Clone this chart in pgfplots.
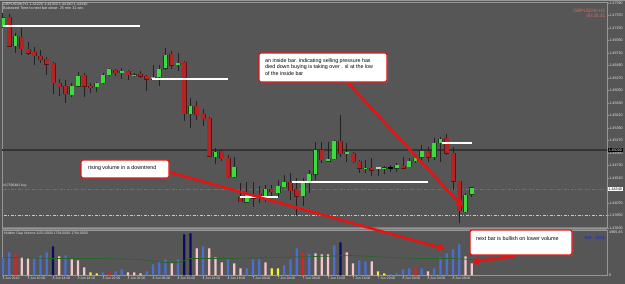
\documentclass[border=0pt]{standalone}
\usepackage{pgfplots}
\pgfplotsset{compat=1.18}
\usepackage{pgfplotstable}
\usepackage{fontspec}
\setmainfont{Liberation Sans}
\usetikzlibrary{arrows.meta,shadows}

\definecolor{bg}{RGB}{86,86,86}
\definecolor{wick}{RGB}{34,34,34}
\definecolor{cred}{RGB}{180,36,36}
\definecolor{credb}{RGB}{90,20,20}
\definecolor{cgreen}{RGB}{60,220,60}
\definecolor{cgreenb}{RGB}{25,60,25}
\definecolor{vblue}{RGB}{72,112,210}
\definecolor{vpink}{RGB}{245,198,198}
\definecolor{vred}{RGB}{230,30,30}
\definecolor{vnavy}{RGB}{12,12,95}
\definecolor{vyellow}{RGB}{240,240,60}
\definecolor{frame}{RGB}{150,150,150}
\definecolor{sepc}{RGB}{125,125,125}
\definecolor{txt}{RGB}{228,228,228}
\definecolor{salmon}{RGB}{215,110,100}
\definecolor{annred}{RGB}{228,20,20}
\definecolor{darkline}{RGB}{52,52,52}
\definecolor{dgreen}{RGB}{80,135,80}
\definecolor{lightg}{RGB}{200,200,200}
\definecolor{volblue}{RGB}{40,50,170}
\definecolor{magreen}{RGB}{40,100,40}

\pgfplotstableread{
i o h l c
0 1.47176 1.47414 1.47150 1.47335
2 1.46833 1.47062 1.46710 1.47009
11 1.45971 1.46182 1.45936 1.46129
12 1.46129 1.46376 1.46112 1.46305
15 1.46112 1.46200 1.46024 1.46182
16 1.46182 1.46358 1.46164 1.46323
17 1.46323 1.46446 1.46305 1.46428
19 1.46358 1.46446 1.46252 1.46393
21 1.46323 1.46358 1.46288 1.46330
24 1.46252 1.46499 1.46235 1.46288
25 1.46288 1.46499 1.46129 1.46428
26 1.46446 1.46798 1.46411 1.46675
28 1.46516 1.46710 1.46393 1.46534
30 1.45637 1.45918 1.45390 1.45777
34 1.44880 1.45038 1.44756 1.44968
37 1.44528 1.44880 1.44510 1.44704
39 1.44088 1.44440 1.44070 1.44211
42 1.44176 1.44387 1.44088 1.44317
44 1.44246 1.44475 1.44176 1.44369
45 1.44352 1.44563 1.44352 1.44440
48 1.44193 1.44510 1.44017 1.44440
49 1.44440 1.44651 1.44246 1.44581
50 1.44581 1.45144 1.44475 1.45003
52 1.44809 1.45144 1.44792 1.44845
53 1.44845 1.45179 1.44827 1.45161
55 1.44950 1.45126 1.44792 1.44968
58 1.44677 1.44827 1.44598 1.44686
61 1.44686 1.44721 1.44581 1.44695
63 1.44686 1.44774 1.44616 1.44739
65 1.44704 1.44862 1.44704 1.44809
66 1.44809 1.44915 1.44774 1.44862
67 1.44880 1.45091 1.44827 1.44985
69 1.44880 1.45214 1.44827 1.45126
70 1.45126 1.45232 1.44792 1.45197
74 1.43912 1.44246 1.43894 1.44211
75 1.44220 1.44360 1.44180 1.44340
}\greenc

\pgfplotstableread{
i o h l c
1 1.47344 1.47396 1.46816 1.46833
3 1.46992 1.47150 1.46675 1.46780
4 1.46780 1.46904 1.46675 1.46710
5 1.46728 1.46816 1.46499 1.46657
6 1.46657 1.46763 1.46534 1.46587
7 1.46604 1.46640 1.46323 1.46516
8 1.46534 1.46552 1.45989 1.46182
9 1.46182 1.46252 1.45953 1.46112
10 1.46129 1.46235 1.45830 1.45989
13 1.46323 1.46358 1.45936 1.46129
14 1.46129 1.46182 1.46006 1.46112
18 1.46411 1.46428 1.46305 1.46358
20 1.46393 1.46411 1.46235 1.46323
22 1.46340 1.46393 1.46270 1.46305
23 1.46305 1.46323 1.46041 1.46252
27 1.46692 1.46745 1.46428 1.46499
29 1.46552 1.46570 1.45513 1.45637
31 1.45777 1.45865 1.45531 1.45619
32 1.45637 1.45725 1.45425 1.45549
33 1.45566 1.45584 1.44880 1.44897
35 1.44985 1.45021 1.44809 1.44845
36 1.44862 1.44915 1.44510 1.44528
38 1.44176 1.44422 1.44088 1.44088
40 1.44193 1.44440 1.44000 1.44158
41 1.44228 1.44369 1.44070 1.44176
43 1.44317 1.44387 1.44176 1.44264
46 1.44440 1.44598 1.44123 1.44281
47 1.44317 1.44510 1.43859 1.44193
51 1.45003 1.45144 1.44774 1.44827
54 1.45161 1.45619 1.44880 1.44933
56 1.44950 1.44968 1.44774 1.44792
57 1.44809 1.44827 1.44598 1.44686
59 1.44686 1.44862 1.44545 1.44651
64 1.44721 1.44880 1.44686 1.44686
68 1.44985 1.45056 1.44792 1.44880
71 1.45214 1.45285 1.44915 1.44950
72 1.44950 1.45056 1.44299 1.44457
73 1.44457 1.44457 1.43718 1.43929
}\redc

\pgfplotstableread{
i o h l c
60 1.44686 1.44686 1.44545 1.44686
}\dojilight

\pgfplotstableread{
i o h l c
62 1.44686 1.44739 1.44616 1.44686
}\dojidark

\pgfplotsset{
  wickplot/.style={draw=none, mark=none, forget plot,
    /pgfplots/error bars/y dir=both, /pgfplots/error bars/y explicit,
    /pgfplots/error bars/error mark=none,
    /pgfplots/error bars/error bar style={draw=#1, line width=1pt, solid}},
  bodyplot/.style 2 args={draw=none, mark=none, forget plot,
    /pgfplots/error bars/y dir=both, /pgfplots/error bars/y explicit,
    /pgfplots/error bars/error mark=none,
    /pgfplots/error bars/error bar style={draw=#1, line width=#2, solid}},
}

\newcommand{\candles}[4]{%
  \addplot[wickplot=wick] table[x=i, y expr={(\thisrow{h}+\thisrow{l})/2}, y error expr={(\thisrow{h}-\thisrow{l})/2}]{#1};
  \addplot[bodyplot={#3}{5pt}] table[x=i, y expr={(\thisrow{o}+\thisrow{c})/2}, y error expr={max(abs(\thisrow{c}-\thisrow{o})/2,0.00003)+0.00008}]{#1};
  \addplot[bodyplot={#2}{#4}] table[x=i, y expr={(\thisrow{o}+\thisrow{c})/2}, y error expr={max(abs(\thisrow{c}-\thisrow{o})/2,0.00003)}]{#1};
}

\begin{document}
\begin{tikzpicture}[x=1pt,y=1pt]
\fill[bg] (0,0) rectangle (625,284);
\fill[frame] (0,282.6) rectangle (625,284);
\fill[sepc] (2,54) rectangle (607,57);

% ---------------- price panel ----------------
\begin{axis}[
  at={(2pt,56pt)}, anchor=south west, scale only axis,
  width=605pt, height=226pt,
  xmin=-0.16, xmax=96.64, ymin=1.4363, ymax=1.476076,
  axis line style={draw=frame, line width=0.7pt},
  xtick=\empty,
  ytick={1.4363,1.4385,1.4407,1.4429,1.4451,1.4473,1.4495,1.4517,1.4539,1.4561,1.4583,1.4605,1.4627,1.4649,1.4671,1.4693,1.4715,1.4737,1.4759},
  yticklabels={1.43630,1.43850,1.44070,1.44290,1.44510,1.44730,1.44950,1.45170,1.45390,1.45610,1.45830,1.46050,1.46270,1.46490,1.46710,1.46930,1.47150,1.47370,1.47590},
  ytick pos=right, yticklabel pos=right, tick align=outside,
  major tick length=1.6pt,
  major tick style={draw=frame, line width=0.4pt},
  yticklabel style={font=\fontsize{3.7}{4}\selectfont, text=txt, inner sep=0.6pt},
]
\addplot[draw=darkline, line width=1.3pt, forget plot] coordinates {(-1,1.45003) (98,1.45003)};
\addplot[draw=dgreen, line width=0.6pt, dash pattern=on 3pt off 1.5pt on 1pt off 1.5pt, forget plot] coordinates {(-1,1.44317) (98,1.44317)};
\addplot[draw=lightg, line width=0.6pt, dash pattern=on 3pt off 1.5pt on 1pt off 1.5pt, forget plot] coordinates {(-1,1.43859) (98,1.43859)};

\candles{\greenc}{cgreen}{cgreenb}{3.8pt}
\candles{\redc}{cred}{credb}{3.8pt}
\candles{\dojilight}{lightg}{lightg}{3.8pt}
\candles{\dojidark}{black}{black}{3.8pt}

\addplot[draw=white, line width=1.2pt, forget plot] coordinates {(0,1.47185) (21.9,1.47185)};
\addplot[draw=white, line width=1.2pt, forget plot] coordinates {(23.8,1.46252) (36,1.46252)};
\addplot[draw=white, line width=1.2pt, forget plot] coordinates {(37.9,1.44176) (44,1.44176)};
\addplot[draw=white, line width=1.2pt, forget plot] coordinates {(46.2,1.44440) (68,1.44440)};
\addplot[draw=white, line width=1.2pt, forget plot] coordinates {(70.2,1.45126) (75,1.45126)};
\end{axis}

% ---------------- volume panel ----------------
\begin{axis}[
  at={(2pt,8.5pt)}, anchor=south west, scale only axis,
  width=605pt, height=45.5pt,
  xmin=-0.16, xmax=96.64, ymin=0, ymax=5232,
  axis line style={draw=frame, line width=0.7pt},
  xtick={0,4,...,72},
  xticklabels={3 Jun 2010,3 Jun 10:00,3 Jun 14:00,3 Jun 18:00,3 Jun 22:00,4 Jun 02:00,4 Jun 06:00,4 Jun 10:00,4 Jun 14:00,4 Jun 18:00,7 Jun 00:00,7 Jun 04:00,7 Jun 08:00,7 Jun 12:00,7 Jun 16:00,7 Jun 20:00,8 Jun 00:00,8 Jun 04:00,8 Jun 08:00},
  xtick pos=bottom, tick align=outside,
  major tick length=1.4pt,
  major tick style={draw=frame, line width=0.4pt},
  xticklabel style={anchor=north west, font=\fontsize{3.4}{4}\selectfont, text=txt, inner sep=0.4pt, xshift=-1pt},
  ytick={0,4965.45}, yticklabels={0,4965.45},
  ytick pos=right, yticklabel pos=right,
  yticklabel style={font=\fontsize{3.7}{4}\selectfont, text=txt, inner sep=0.6pt},
]
\addplot[ybar, bar width=2.4pt, bar shift=0pt, fill=vblue, draw=none, forget plot] coordinates {(0,2070)(1,2645)(5,1955)(6,2300)(7,2645)(10,2300)(16,345)(18,460)(19,690)(23,460)(24,1265)(25,1610)(26,1840)(28,1840)(32,3335)(36,1840)(39,805)(40,1840)(41,1840)(45,1150)(46,1840)(47,3105)(49,2415)(53,3450)(57,1725)(58,1610)(62,170)(63,230)(64,690)(65,805)(67,805)(69,805)(70,2070)(71,2530)(72,2990)(73,3565)};
\addplot[ybar, bar width=2.4pt, bar shift=0pt, fill=vpink, draw=none, forget plot] coordinates {(3,2070)(4,1955)(9,2185)(11,1840)(12,1725)(13,920)(20,345)(21,345)(22,230)(27,1380)(31,3105)(33,3105)(34,2070)(35,1495)(37,1380)(38,805)(42,1495)(50,2530)(51,2415)(52,2415)(55,2645)(56,1380)(59,1610)(68,460)(74,2185)(75,1400)};
\addplot[ybar, bar width=2.4pt, bar shift=0pt, fill=vred, draw=none, forget plot] coordinates {(2,2415)(17,345)(48,2645)(66,805)};
\addplot[ybar, bar width=2.4pt, bar shift=0pt, fill=vnavy, draw=none, forget plot] coordinates {(8,3335)(29,4715)(30,4830)(54,3795)};
\addplot[ybar, bar width=2.4pt, bar shift=0pt, fill=vyellow, draw=none, forget plot] coordinates {(14,345)(15,230)(43,805)(44,805)(60,460)(61,230)};
\addplot[draw=magreen, line width=0.7pt, forget plot] coordinates {(0,2070)(8,1955)(16,1955)(22,1840)(26,1495)(28,1495)(30,1955)(36,1955)(44,2070)(50,2185)(56,2300)(62,2070)(66,1955)(72,1955)(75,1840)};
\end{axis}

% ---------------- texts ----------------
\node[anchor=north west, font=\fontsize{3.8}{4.6}\selectfont, text=txt, inner sep=0, align=left] at (3,281.5) {GBPUSDm,H1 1.44220 1.44360 1.44180 1.44340\\Balanced Time to next bar close: 25 min 31 sec};
\node[anchor=north east, font=\fontsize{4.8}{5.2}\selectfont, text=salmon, inner sep=0, align=right] at (605.5,275.5) {GBPUSDm H1\\00:25:31};
\node[anchor=south west, font=\fontsize{3.4}{4}\selectfont, text=txt, inner sep=0] at (3,96.2) {\#17596482 buy};
\node[anchor=north west, font=\fontsize{3.5}{4}\selectfont, text=txt, inner sep=0] at (4,52.5) {Hidden Gap Volume 1151.0000 1794.0000 1794.0000};
\node[anchor=east, font=\bfseries\fontsize{4.6}{5}\selectfont, text=volblue, inner sep=0] at (605.5,46) {Vol:\ \ 1151};
\node[anchor=west, fill=black, text=white, font=\fontsize{3.7}{4}\selectfont, inner xsep=0.8pt, inner ysep=0.7pt] at (607.5,134) {1.45000};
\node[anchor=west, fill=white, text=black, font=\fontsize{3.7}{4}\selectfont, inner xsep=0.8pt, inner ysep=0.7pt] at (607.5,95) {1.44340};

% ---------------- annotations ----------------
\draw[annred, line width=2.6pt, -{Triangle[length=7pt,width=7.5pt]}] (348,201) -- (463,77);
\draw[annred, line width=2.6pt, -{Triangle[length=7pt,width=7.5pt]}] (169,112) -- (445,35);
\draw[annred, line width=2.6pt, -{Triangle[length=7pt,width=7.5pt]}] (515,28) -- (472,22);

\draw[annred, line width=1.3pt, fill=white, rounded corners=2pt, drop shadow={shadow xshift=1pt, shadow yshift=-1pt, opacity=0.45}] (259,231) rectangle (387,202);
\node[anchor=north west, align=left, font=\fontsize{5.35}{6.4}\selectfont, inner sep=0] at (265,225.8) {an inside bar. indicating selling pressure has\\died down buying is taking over . sl at the low\\of the inside bar};

\draw[annred, line width=1.3pt, fill=white, rounded corners=2pt, drop shadow={shadow xshift=1pt, shadow yshift=-1pt, opacity=0.45}] (81,124) rectangle (169,106);
\node[anchor=west, font=\fontsize{5.35}{6}\selectfont, inner sep=0] at (88,115.5) {rising volume in a downtrend};

\draw[annred, line width=1.3pt, fill=white, rounded corners=2pt, drop shadow={shadow xshift=1pt, shadow yshift=-1pt, opacity=0.45}] (470,54) rectangle (572,29);
\node[anchor=west, font=\fontsize{5.4}{6}\selectfont, inner sep=0] at (476,45) {next bar is bullish on lower volume};
\end{tikzpicture}
\end{document}
